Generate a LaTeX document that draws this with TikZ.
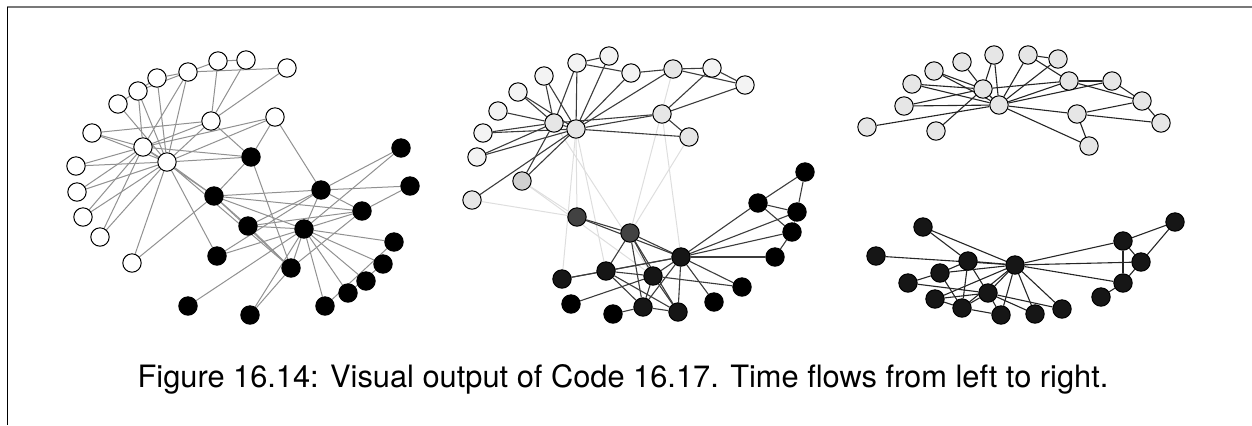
\documentclass[tikz,border=0pt]{standalone}
\usepackage{fontspec}
\setmainfont{TeX Gyre Heros}
\usetikzlibrary{backgrounds}
\definecolor{framegray}{RGB}{120,120,120}
\definecolor{edgegray}{RGB}{145,145,145}
\definecolor{linkdark}{RGB}{60,60,60}
\definecolor{linkfaint}{RGB}{222,222,222}
\definecolor{pale}{RGB}{243,243,243}
\definecolor{light}{RGB}{230,230,230}
\definecolor{dim}{RGB}{208,208,208}
\definecolor{smoke}{RGB}{66,66,66}
\definecolor{coal}{RGB}{22,22,22}
\tikzset{
  agent/.style={circle, draw=black, line width=0.5pt, minimum size=9.2pt, inner sep=0pt},
  wnode/.style={agent, fill=white},
  bnode/.style={agent, fill=black},
  pnode/.style={agent, fill=pale},
  lnode/.style={agent, fill=light},
  dnode/.style={agent, fill=dim},
  snode/.style={agent, fill=smoke},
  cnode/.style={agent, fill=coal},
  tie/.style={draw=edgegray, line width=0.5pt},
  tiedark/.style={draw=linkdark, line width=0.55pt},
  tiefaint/.style={draw=linkfaint, line width=0.5pt},
  tieblack/.style={draw=black!85, line width=0.55pt},
  caption/.style={font=\fontsize{15.4}{18}\selectfont, text=black},
}

\begin{document}
\begin{tikzpicture}[x=0.5pt, y=-0.5pt]
  \useasboundingbox (0,0) rectangle (1252,425);
  \coordinate (tl) at (7,7);
  \coordinate (tr) at (1252,7);
  \coordinate (bl) at (7,425);
  \draw[framegray, line width=0.8pt] (tl) -- (tr);
  \draw[black, line width=0.5pt] (tl) -- (bl);

  % ---- left panel ----------------------------------------------------
  \node[wnode] (lw1) at (218,61) {};
  \node[wnode] (lw2) at (246,60) {};
  \node[wnode] (lw3) at (287,68) {};
  \node[wnode] (lw4) at (188,72) {};
  \node[wnode] (lw5) at (157,78) {};
  \node[wnode] (lw6) at (138,91) {};
  \node[wnode] (lw7) at (118,104) {};
  \node[wnode] (lw8) at (211,121) {};
  \node[wnode] (lw9) at (275,117) {};
  \node[wnode] (lw10) at (92,133) {};
  \node[wnode] (lw11) at (143,147) {};
  \node[wnode] (lw12) at (167,162) {};
  \node[wnode] (lw13) at (76,166) {};
  \node[wnode] (lw14) at (77,192) {};
  \node[wnode] (lw15) at (83,217) {};
  \node[wnode] (lw16) at (100,237) {};
  \node[wnode] (lw17) at (132,263) {};
  \node[bnode] (lb1) at (251,157) {};
  \node[bnode] (lb2) at (401,148) {};
  \node[bnode] (lb3) at (321,190) {};
  \node[bnode] (lb4) at (410,186) {};
  \node[bnode] (lb5) at (214,196) {};
  \node[bnode] (lb6) at (362,211) {};
  \node[bnode] (lb7) at (248,226) {};
  \node[bnode] (lb8) at (304,229) {};
  \node[bnode] (lb9) at (394,242) {};
  \node[bnode] (lb10) at (217,256) {};
  \node[bnode] (lb11) at (291,268) {};
  \node[bnode] (lb12) at (383,264) {};
  \node[bnode] (lb13) at (366,281) {};
  \node[bnode] (lb14) at (348,293) {};
  \node[bnode] (lb15) at (188,306) {};
  \node[bnode] (lb16) at (325,306) {};
  \node[bnode] (lb17) at (250,315) {};

  \begin{pgfonlayer}{background}
    \foreach \a/\b in {lw1/lw2, lw1/lw4, lw4/lw3, lw4/lw5, lw6/lw4, lw1/lw8, lw2/lw8,
        lw3/lw8, lw4/lw12, lw4/lw11, lw5/lw12, lw6/lw12, lw6/lw11, lw7/lw12, lw7/lw5,
        lw8/lw10, lw8/lw12, lw8/lw11, lw8/lb1, lw9/lw11, lw9/lw12, lw9/lb1, lw9/lb3,
        lw10/lw12, lw10/lw11, lw11/lw12, lw13/lw12, lw13/lw11, lw14/lw12, lw14/lw11,
        lw15/lw11, lw15/lw12, lw16/lw11, lw16/lw12, lw17/lw12, lw17/lb5, lw12/lb1,
        lw12/lb5, lw12/lb10, lw12/lb11, lw11/lb5, lw11/lb1, lb1/lb5, lb1/lb11,
        lb5/lb3, lb5/lb6, lb5/lb7, lb5/lb8, lb5/lb11, lb7/lb3, lb7/lb8, lb7/lb6,
        lb10/lb8, lb10/lb3, lb11/lb8, lb11/lb6, lb11/lb17, lb11/lb7, lb17/lb8,
        lb15/lb8, lb8/lb3, lb8/lb6, lb8/lb9, lb8/lb12, lb8/lb13, lb8/lb14, lb8/lb16,
        lb8/lb2, lb3/lb2, lb3/lb4, lb3/lb6, lb4/lb6, lb16/lb9, lb14/lb12}
      \draw[tie] (\a) -- (\b);
  \end{pgfonlayer}

  % ---- middle panel --------------------------------------------------
  \node[pnode] (mw1) at (609,56) {};
  \node[pnode] (mw2) at (577,63) {};
  \node[pnode] (mw3) at (631,73) {};
  \node[lnode] (mw4) at (673,69) {};
  \node[pnode] (mw5) at (712,68) {};
  \node[pnode] (mw6) at (745,85) {};
  \node[pnode] (mw7) at (544,76) {};
  \node[pnode] (mw8) at (518,92) {};
  \node[pnode] (mw9) at (498,111) {};
  \node[pnode] (mw10) at (483,133) {};
  \node[pnode] (mw11) at (477,157) {};
  \node[lnode] (mw12) at (554,123) {};
  \node[lnode] (mw13) at (576,129) {};
  \node[lnode] (mw14) at (662,114) {};
  \node[lnode] (mw15) at (689,137) {};
  \node[dnode] (mw16) at (522,181) {};
  \node[lnode] (mw17) at (472,200) {};
  \node[snode] (mb1) at (577,217) {};
  \node[snode] (mb2) at (630,233) {};
  \node[cnode] (mb3) at (681,257) {};
  \node[bnode] (mb4) at (805,172) {};
  \node[bnode] (mb5) at (758,203) {};
  \node[bnode] (mb6) at (797,212) {};
  \node[bnode] (mb7) at (792,232) {};
  \node[bnode] (mb8) at (775,257) {};
  \node[cnode] (mb9) at (562,279) {};
  \node[cnode] (mb10) at (606,271) {};
  \node[cnode] (mb11) at (653,276) {};
  \node[bnode] (mb12) at (742,287) {};
  \node[bnode] (mb13) at (714,302) {};
  \node[bnode] (mb14) at (571,304) {};
  \node[bnode] (mb15) at (613,314) {};
  \node[cnode] (mb16) at (643,307) {};
  \node[cnode] (mb17) at (678,312) {};

  \begin{pgfonlayer}{background}
    \foreach \a/\b in {mw16/mb1, mw16/mb11, mw17/mb1, mw13/mb9, mw13/mb10, mw13/mb1,
        mw12/mb11, mw4/mb2, mw15/mb2, mw14/mb3}
      \draw[tiefaint] (\a) -- (\b);
    \foreach \a/\b in {mw1/mw2, mw1/mw13, mw2/mw13, mw2/mw12, mw2/mw3, mw3/mw4,
        mw3/mw13, mw4/mw5, mw4/mw6, mw5/mw6, mw5/mw14, mw6/mw14, mw4/mw13, mw14/mw13,
        mw14/mw12, mw14/mw15, mw15/mw13, mw7/mw12, mw7/mw13, mw8/mw12, mw8/mw13,
        mw9/mw12, mw10/mw12, mw10/mw13, mw11/mw12, mw11/mw13, mw16/mw12, mw16/mw13,
        mw17/mw13, mw12/mw13,
        mb1/mb2, mb1/mb3, mb2/mb3, mb2/mb10, mb2/mb11, mb2/mb16, mb2/mb17, mb3/mb5,
        mb3/mb6, mb3/mb7, mb3/mb8, mb3/mb10, mb3/mb11, mb3/mb16, mb3/mb17, mb3/mb13,
        mb3/mb12, mb3/mb9, mb5/mb4, mb5/mb6, mb5/mb7, mb4/mb6, mb6/mb7, mb7/mb8,
        mb9/mb10, mb10/mb11, mb10/mb16, mb14/mb11, mb15/mb16, mb16/mb17, mb16/mb11,
        mb11/mb12, mb11/mb17, mb10/mb17}
      \draw[tiedark] (\a) -- (\b);
  \end{pgfonlayer}

  % ---- right panel ---------------------------------------------------
  \node[lnode] (rw1) at (994,55) {};
  \node[lnode] (rw2) at (1028,55) {};
  \node[lnode] (rw3) at (1058,59) {};
  \node[lnode] (rw4) at (962,62) {};
  \node[lnode] (rw5) at (934,71) {};
  \node[lnode] (rw6) at (912,84) {};
  \node[lnode] (rw7) at (904,106) {};
  \node[lnode] (rw8) at (867,127) {};
  \node[lnode] (rw9) at (983,89) {};
  \node[lnode] (rw10) at (999,105) {};
  \node[lnode] (rw11) at (1069,81) {};
  \node[lnode] (rw12) at (1112,81) {};
  \node[lnode] (rw13) at (1142,101) {};
  \node[lnode] (rw14) at (1161,123) {};
  \node[lnode] (rw15) at (1077,114) {};
  \node[lnode] (rw16) at (1089,146) {};
  \node[lnode] (rw17) at (936,131) {};
  \node[cnode] (rb1) at (923,227) {};
  \node[cnode] (rb2) at (876,256) {};
  \node[cnode] (rb3) at (968,261) {};
  \node[cnode] (rb4) at (1015,265) {};
  \node[cnode] (rb5) at (940,273) {};
  \node[cnode] (rb6) at (908,283) {};
  \node[cnode] (rb7) at (988,293) {};
  \node[cnode] (rb8) at (935,299) {};
  \node[cnode] (rb9) at (962,308) {};
  \node[cnode] (rb10) at (1001,315) {};
  \node[cnode] (rb11) at (1035,314) {};
  \node[cnode] (rb12) at (1062,309) {};
  \node[cnode] (rb13) at (1101,297) {};
  \node[cnode] (rb14) at (1123,283) {};
  \node[cnode] (rb15) at (1141,262) {};
  \node[cnode] (rb16) at (1123,241) {};
  \node[cnode] (rb17) at (1175,222) {};

  \begin{pgfonlayer}{background}
    \foreach \a/\b in {rw4/rw9, rw1/rw9, rw1/rw10, rw2/rw3, rw2/rw10, rw2/rw11,
        rw3/rw10, rw5/rw9, rw5/rw10, rw6/rw9, rw6/rw10, rw7/rw9, rw7/rw10, rw8/rw10,
        rw17/rw9, rw9/rw10, rw9/rw11, rw10/rw11, rw10/rw12, rw10/rw15, rw10/rw16,
        rw11/rw12, rw11/rw13, rw12/rw13, rw13/rw14, rw15/rw13, rw15/rw14, rw15/rw16,
        rb1/rb3, rb1/rb4, rb2/rb4, rb3/rb4, rb5/rb3, rb5/rb4, rb6/rb5, rb6/rb7,
        rb8/rb7, rb8/rb9, rb8/rb4, rb9/rb5, rb9/rb3, rb9/rb7, rb9/rb10, rb9/rb4,
        rb7/rb4, rb7/rb3, rb7/rb10, rb7/rb11, rb7/rb12, rb4/rb10, rb4/rb11, rb4/rb12,
        rb4/rb16, rb4/rb15, rb4/rb14, rb16/rb17, rb16/rb15, rb16/rb14, rb17/rb15,
        rb15/rb14, rb14/rb13}
      \draw[tieblack] (\a) -- (\b);
  \end{pgfonlayer}

  \node[caption] (cap) at (623,379)
    {Figure 16.14: Visual output of Code 16.17. Time flows from left to right.};
\end{tikzpicture}
\end{document}
